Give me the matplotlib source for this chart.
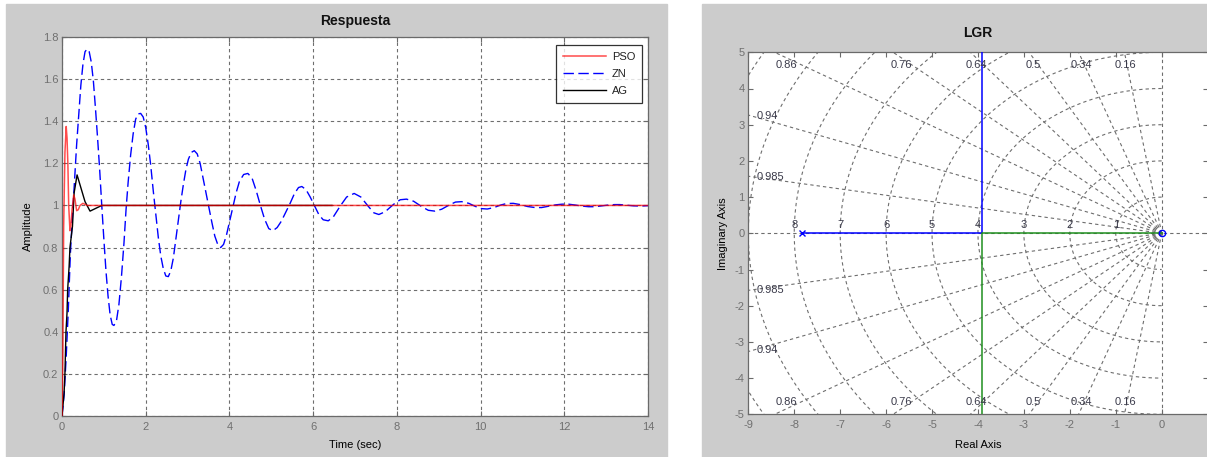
import numpy as np
import matplotlib
matplotlib.use("Agg")
import matplotlib.pyplot as plt
from matplotlib.patches import Rectangle
from matplotlib.ticker import FuncFormatter

plt.rcParams['font.family'] = ['Liberation Sans', 'DejaVu Sans']
plt.rcParams['axes.unicode_minus'] = False
plt.rcParams['lines.scale_dashes'] = False

# ---------------- step responses ----------------
t_pso = [0, 0.02, 0.04, 0.07, 0.10, 0.12, 0.14, 0.16, 0.19, 0.21, 0.24, 0.28,
         0.31, 0.35, 0.39, 0.43, 0.50, 0.60, 14.0]
y_pso = [0, 0.30, 0.90, 1.25, 1.375, 1.32, 1.20, 1.00, 0.88, 0.90, 0.98, 1.05,
         1.03, 0.975, 0.98, 1.00, 1.01, 1.00, 1.00]

t_zn = [0.00, 0.05, 0.10, 0.15, 0.20, 0.25, 0.30, 0.35, 0.40, 0.45, 0.50, 0.55,
        0.60, 0.65, 0.70, 0.75, 0.80, 0.85, 0.90, 0.95, 1.00, 1.05, 1.10, 1.15,
        1.20, 1.24, 1.30, 1.36, 1.42, 1.48, 1.53, 1.58, 1.64, 1.70, 1.76, 1.82,
        1.88, 1.94, 2.00, 2.06, 2.12, 2.18, 2.24, 2.30, 2.36, 2.42, 2.48, 2.54,
        2.60, 2.66, 2.72, 2.78, 2.84, 2.90, 2.96, 3.02, 3.09, 3.16, 3.23, 3.30,
        3.37, 3.44, 3.51, 3.58, 3.65, 3.72, 3.79, 3.86, 3.93, 4.00, 4.08, 4.16,
        4.24, 4.34, 4.44, 4.54, 4.64, 4.74, 4.84, 4.94, 5.04, 5.14, 5.24, 5.34,
        5.45, 5.55, 5.65, 5.73, 5.83, 5.93, 6.04, 6.14, 6.24, 6.36, 6.48, 6.64,
        6.80, 6.98, 7.14, 7.30, 7.45, 7.57, 7.72, 7.92, 8.08, 8.23, 8.40, 8.59,
        8.75, 8.91, 9.07, 9.25, 9.40, 9.55, 9.72, 9.88, 10.02, 10.16, 10.32,
        10.48, 10.62, 10.78, 10.95, 11.12, 11.30, 11.46, 11.62, 11.80, 11.95,
        12.10, 12.26, 12.42, 12.58, 12.73, 12.90, 13.06, 13.20, 13.33, 13.50,
        13.66, 13.82, 14.00]
y_zn = [0.00, 0.10, 0.28, 0.50, 0.77, 0.95, 1.12, 1.29, 1.43, 1.57, 1.67, 1.73,
        1.743, 1.73, 1.68, 1.59, 1.46, 1.32, 1.17, 1.00, 0.84, 0.69, 0.57, 0.48,
        0.435, 0.43, 0.45, 0.53, 0.66, 0.82, 0.98, 1.11, 1.24, 1.34, 1.41, 1.435,
        1.437, 1.42, 1.37, 1.29, 1.19, 1.07, 0.96, 0.85, 0.76, 0.70, 0.665, 0.662,
        0.69, 0.75, 0.84, 0.93, 1.02, 1.10, 1.17, 1.22, 1.252, 1.26, 1.245, 1.20,
        1.13, 1.06, 0.99, 0.92, 0.855, 0.815, 0.80, 0.815, 0.86, 0.92, 0.99, 1.06,
        1.115, 1.147, 1.152, 1.13, 1.07, 1.00, 0.935, 0.89, 0.88, 0.895, 0.925,
        0.965, 1.01, 1.055, 1.085, 1.09, 1.075, 1.04, 0.995, 0.955, 0.932, 0.927,
        0.945, 0.995, 1.04, 1.057, 1.04, 1.00, 0.965, 0.957, 0.97, 1.005, 1.027,
        1.03, 1.02, 0.995, 0.977, 0.973, 0.982, 1.002, 1.016, 1.018, 1.01, 0.995,
        0.985, 0.983, 0.99, 1.002, 1.009, 1.01, 1.004, 0.995, 0.99, 0.99, 0.996,
        1.003, 1.006, 1.006, 1.002, 0.997, 0.994, 0.994, 0.998, 1.002, 1.004,
        1.004, 1.001, 0.998, 0.997, 0.999]

t_ag = [0, 0.05, 0.07, 0.095, 0.12, 0.135, 0.17, 0.19, 0.25, 0.29, 0.36, 0.55,
        0.67, 0.95, 6.45]
y_ag = [0, 0.11, 0.20, 0.40, 0.49, 0.60, 0.71, 0.80, 0.90, 1.06, 1.145, 1.018,
        0.973, 1.00, 1.00]

x_ticks_step = [0, 2, 4, 6, 8, 10, 12, 14]
y_ticks_step = [0, 0.2, 0.4, 0.6, 0.8, 1.0, 1.2, 1.4, 1.6, 1.8]

# ---------------- root locus ----------------
poles_re = [-7.82, 0.0]
break_re = -3.91
branch_up_re = [-7.82, break_re, break_re]
branch_up_im = [0.0, 0.0, 6.0]
branch_dn_re = [0.0, break_re, break_re]
branch_dn_im = [0.0, 0.0, -6.0]

zetas = [0.16, 0.34, 0.5, 0.64, 0.76, 0.86, 0.94, 0.985]
zeta_labels = ['0.16', '0.34', '0.5', '0.64', '0.76', '0.86', '0.94', '0.985']
wns = [1, 2, 3, 4, 5, 6, 7, 8, 9, 10]
wn_labels = ['1', '2', '3', '4', '5', '6', '7', '8']

x_ticks_rl = [-9, -8, -7, -6, -5, -4, -3, -2, -1, 0]
y_ticks_rl = [-5, -4, -3, -2, -1, 0, 1, 2, 3, 4, 5]

# ---------------- figure ----------------
W, H = 1207, 457
fig = plt.figure(figsize=(W / 100, H / 100), dpi=100, facecolor='white')

panel = '#cccccc'
fig.patches.append(Rectangle((6 / W, 0), (667 - 6) / W, (H - 4) / H,
                             transform=fig.transFigure, color=panel, zorder=-10))
fig.patches.append(Rectangle((702 / W, 0), (W - 702) / W, (H - 4) / H,
                             transform=fig.transFigure, color=panel, zorder=-10))

spine_c = '#6a6a6a'
tick_c = '#707070'
grid_c = '#6e6e6e'
grid_ls = (0, (2.4, 2.2))


def style_axes(ax):
    for s in ax.spines.values():
        s.set_color(spine_c)
        s.set_linewidth(0.9)
    ax.tick_params(direction='in', length=3.6, width=0.8, color=spine_c,
                   labelcolor=tick_c, labelsize=8, top=True, right=True)
    ax.tick_params(axis='y', pad=2.6)
    ax.tick_params(axis='x', pad=4.2)


fmt = FuncFormatter(lambda v, p: f'{v:g}')

# left: step responses
ax1 = fig.add_axes([62 / W, (H - 416) / H, 586 / W, 379 / H])
style_axes(ax1)
ax1.set_xlim(0, 14)
ax1.set_ylim(0, 1.8)
ax1.set_xticks(x_ticks_step)
ax1.set_yticks(y_ticks_step)
ax1.xaxis.set_major_formatter(fmt)
ax1.yaxis.set_major_formatter(fmt)
ax1.grid(True, color=grid_c, linestyle=grid_ls, linewidth=0.8)
ax1.set_axisbelow(True)

l_zn, = ax1.plot(t_zn, y_zn, color='#0000ff', linewidth=1.0,
                 linestyle=(0, (7.5, 3.2)), label='ZN', zorder=3)
l_ag, = ax1.plot(t_ag, y_ag, color='black', linewidth=1.0, label='AG', zorder=3)
l_pso, = ax1.plot(t_pso, y_pso, color='#ff0000', linewidth=1.1, alpha=0.7,
                  label='PSO', zorder=4)

leg = ax1.legend([l_pso, l_zn, l_ag], ['PSO', 'ZN', 'AG'], loc='upper right',
                 bbox_to_anchor=(0.99, 0.979), borderaxespad=0, fontsize=8,
                 frameon=True, fancybox=False, edgecolor='black',
                 handlelength=3.9, handletextpad=0.5, labelspacing=0.62,
                 borderpad=0.62)
leg.get_frame().set_linewidth(0.9)
for txt in leg.get_texts():
    txt.set_color('#222222')

ax1.set_title('Respuesta', fontsize=10, fontweight='bold', pad=8.6, color='#111111')
ax1.set_xlabel('Time (sec)', fontsize=8, va='top')
ax1.xaxis.set_label_coords(0.5, -0.063)
ax1.set_ylabel('Amplitude', fontsize=8)
ax1.yaxis.set_label_coords(-0.0495, 0.5)

# right: root locus with s-plane grid
ax2 = fig.add_axes([748.3 / W, (H - 414.3) / H, 459.3 / W, 362 / H])
style_axes(ax2)
ax2.set_xlim(-9, 1)
ax2.set_ylim(-5, 5)
ax2.set_xticks(x_ticks_rl)
ax2.set_yticks(y_ticks_rl)
ax2.xaxis.set_major_formatter(fmt)
ax2.yaxis.set_major_formatter(fmt)

sg = dict(color=grid_c, linestyle=grid_ls, linewidth=0.8, zorder=1)
ax2.axhline(0, **sg)
ax2.axvline(0, **sg)
R = 20.0
for z in zetas:
    s = np.sqrt(1 - z ** 2)
    ax2.plot([0, -z * R], [0, s * R], **sg)
    ax2.plot([0, -z * R], [0, -s * R], **sg)
th = np.linspace(np.pi / 2, 3 * np.pi / 2, 200)
for w in wns:
    ax2.plot(w * np.cos(th), w * np.sin(th), **sg)

lab_c = '#3a3a4a'
for z, lab in zip(zetas, zeta_labels):
    s = np.sqrt(1 - z ** 2)
    xt = -z / s * 4.85
    if xt > -8.9:
        ax2.text(xt, 4.66, lab, fontsize=8, color=lab_c, ha='center', va='center', zorder=5)
        ax2.text(xt, -4.66, lab, fontsize=8, color=lab_c, ha='center', va='center', zorder=5)
    else:
        yt = s / z * 8.9
        ax2.text(-8.82, yt, lab, fontsize=8, color=lab_c, ha='left', va='center', zorder=5)
        ax2.text(-8.82, -yt, lab, fontsize=8, color=lab_c, ha='left', va='center', zorder=5)
for lab in wn_labels:
    ax2.text(-float(lab), 0.23, lab, fontsize=8, color=lab_c, ha='center',
             va='center', zorder=5)

ax2.plot(branch_up_re, branch_up_im, color='#0000ff', linewidth=1.1, zorder=3)
ax2.plot(branch_dn_re, branch_dn_im, color='#1f8f1f', linewidth=1.1, zorder=3)
ax2.plot([poles_re[0]], [0], linestyle='none', marker='x', color='#0000ff',
         markersize=5, markeredgewidth=1.0, zorder=4)
ax2.plot([poles_re[1]], [0], linestyle='none', marker='o', color='#0000ff',
         markerfacecolor='none', markersize=4.5, markeredgewidth=1.0, zorder=4)

ax2.set_title('LGR', fontsize=10, fontweight='bold', pad=10.8, color='#111111')
ax2.set_xlabel('Real Axis', fontsize=8, va='top')
ax2.xaxis.set_label_coords(0.5, -0.071)
ax2.set_ylabel('Imaginary Axis', fontsize=8)
ax2.yaxis.set_label_coords(-0.044, 0.5)

fig.savefig('out.png', dpi=100, facecolor=fig.get_facecolor())
